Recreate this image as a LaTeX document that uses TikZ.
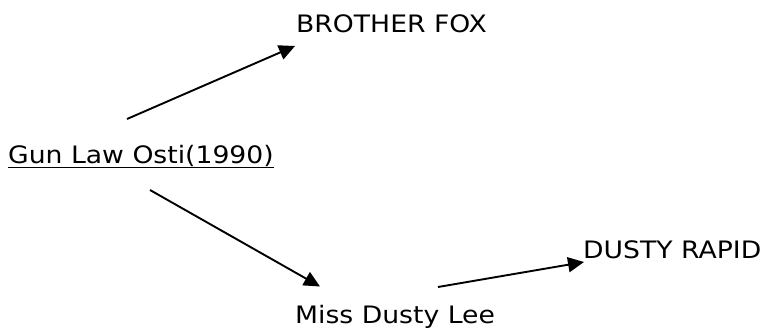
\documentclass[tikz,border=0pt]{standalone}
\usepackage{fontspec}
\setmainfont[FakeStretch=1.11]{DejaVu Sans}
\usetikzlibrary{arrows.meta}
\begin{document}
\begin{tikzpicture}[x=1pt,y=-1pt,
  lbl/.style={anchor=base west,inner sep=0pt,font=\fontsize{24}{28}\selectfont},
  arr/.style={line width=1.9pt,-{Triangle[length=16pt,width=15pt]}}]
\useasboundingbox (0,0) rectangle (771,335);
\node[lbl] (fox) at (296,32) {BROTHER FOX};
\node[lbl] (gun) at (8,163) {\underline{Gun Law Osti(1990)}};
\node[lbl] (lee) at (295,323) {Miss Dusty Lee};
\node[lbl] (rapid) at (583,258) {DUSTY RAPID};
\coordinate (a1) at (127,119);
\coordinate (b1) at (295,46);
\coordinate (a2) at (150,190);
\coordinate (b2) at (320,286.5);
\coordinate (a3) at (438,287);
\coordinate (b3) at (584,262);
\draw[arr] (a1) -- (b1);
\draw[arr] (a2) -- (b2);
\draw[arr] (a3) -- (b3);
\end{tikzpicture}
\end{document}
